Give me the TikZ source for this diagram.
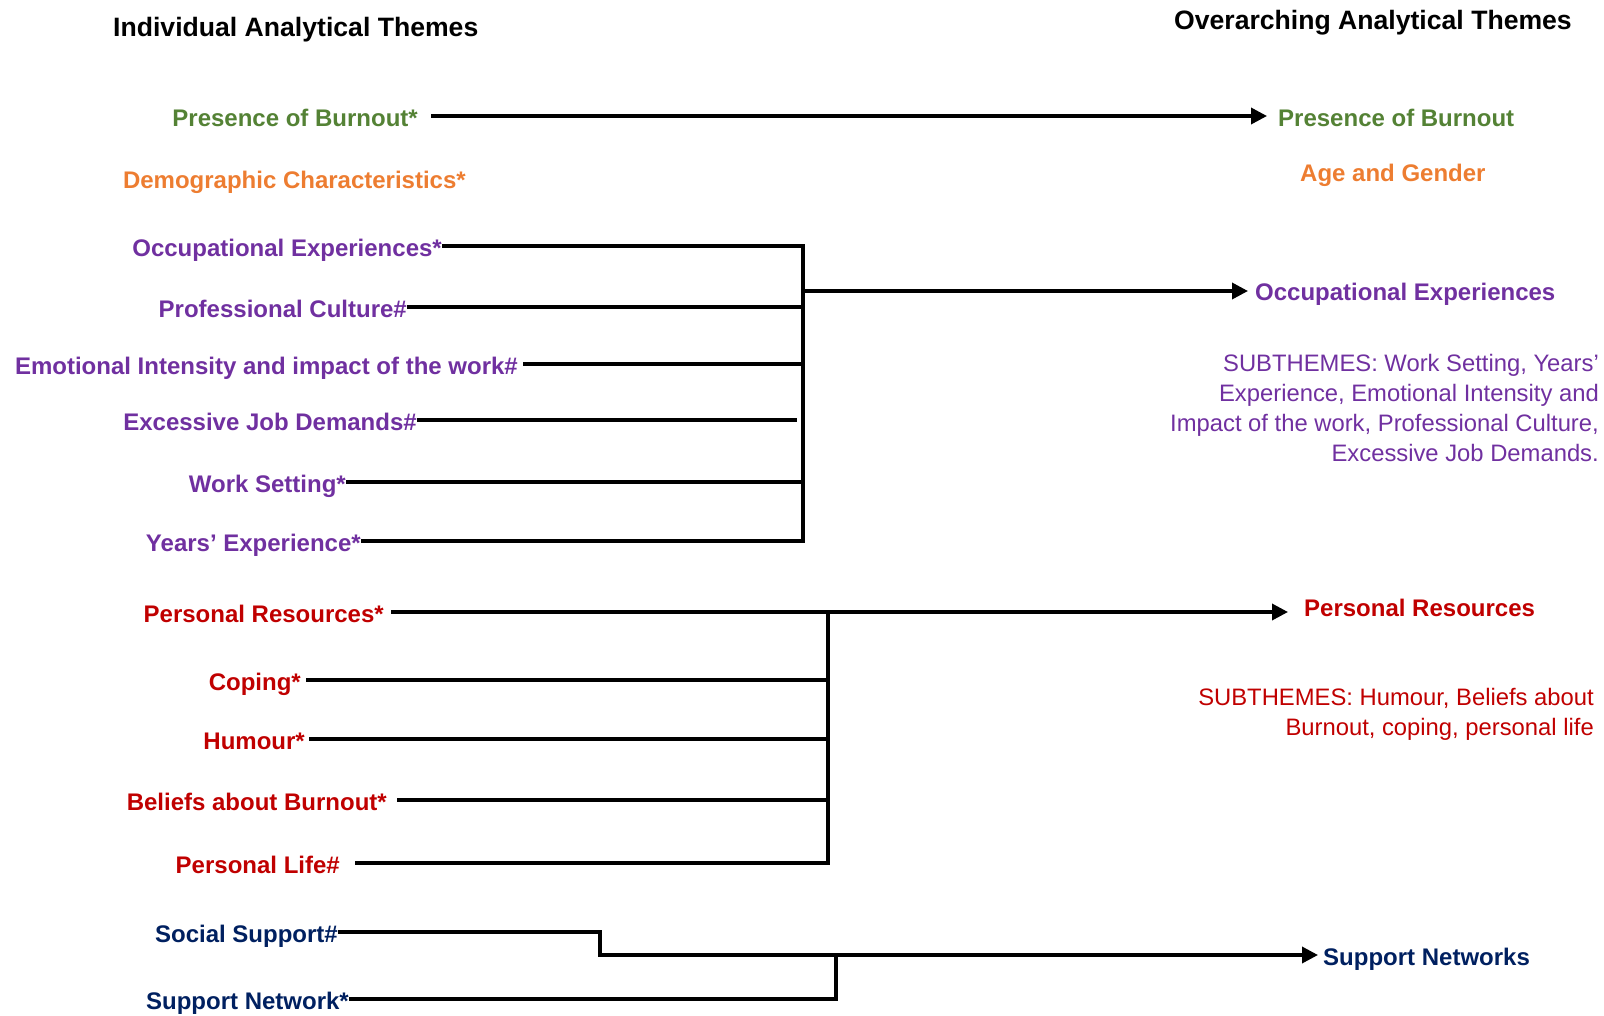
\documentclass[tikz,border=0pt]{standalone}
\usepackage{fontspec}
\setmainfont{Liberation Sans}
\usetikzlibrary{arrows.meta}
\definecolor{burngreen}{RGB}{84,130,53}
\definecolor{demoorange}{RGB}{237,125,49}
\definecolor{occpurple}{RGB}{112,48,160}
\definecolor{resred}{RGB}{192,0,0}
\definecolor{supnavy}{RGB}{0,32,96}

\begin{document}
\begin{tikzpicture}[x=1pt,y=-1pt,>={Triangle[length=16pt,width=16pt]},
  theme/.style={font=\bfseries\fontsize{24}{28}\selectfont,inner sep=0pt,text height=21pt,text depth=0pt},
  ltheme/.style={theme,anchor=east},
  rtheme/.style={theme,anchor=west},
  subtext/.style={font=\fontsize{23.8}{30}\selectfont,inner sep=0pt,align=right,anchor=north east},
  heading/.style={font=\bfseries\fontsize{26.6}{30}\selectfont,inner sep=0pt},
  link/.style={line width=3.5pt}]
\useasboundingbox (0,0) rectangle (1604,1015);

\node[heading,anchor=west] (indhead) at (113,29.5) {Individual Analytical Themes};
\node[heading,anchor=east] (overhead) at (1572,22.5) {Overarching Analytical Themes};

% individual themes
\node[ltheme,burngreen] (pobL) at (418,116) {Presence of Burnout*};
\node[ltheme,demoorange] (demoL) at (466,178) {Demographic Characteristics*};
\node[ltheme,occpurple] (occL) at (442,246) {Occupational Experiences*};
\node[ltheme,occpurple] (profL) at (407,307) {Professional Culture\#};
\node[ltheme,occpurple] (emoL) at (518,364) {Emotional Intensity and impact of the work\#};
\node[ltheme,occpurple] (excL) at (417,420) {Excessive Job Demands\#};
\node[ltheme,occpurple] (workL) at (346,482) {Work Setting*};
\node[ltheme,occpurple] (yrsL) at (361,541) {Years’ Experience*};
\node[ltheme,resred] (prL) at (384,612) {Personal Resources*};
\node[ltheme,resred] (copL) at (301,680) {Coping*};
\node[ltheme,resred] (humL) at (305,739) {Humour*};
\node[ltheme,resred] (belL) at (387,800) {Beliefs about Burnout*};
\node[ltheme,resred] (plifeL) at (340,863) {Personal Life\#};
\node[ltheme,supnavy] (socL) at (338,932) {Social Support\#};
\node[ltheme,supnavy] (snL) at (349,999) {Support Network*};

% overarching themes
\node[rtheme,burngreen] (pobR) at (1278,116) {Presence of Burnout};
\node[rtheme,demoorange] (ageR) at (1300,171) {Age and Gender};
\node[rtheme,occpurple] (occR) at (1255,290) {Occupational Experiences};
\node[rtheme,resred] (prR) at (1304,606) {Personal Resources};
\node[rtheme,supnavy] (snR) at (1323,955) {Support Networks};
\node[subtext,occpurple] (occsub) at (1599,354) {SUBTHEMES: Work Setting, Years’\\Experience, Emotional Intensity and\\Impact of the work, Professional Culture,\\Excessive Job Demands.};
\node[subtext,resred] (prsub) at (1594,688) {SUBTHEMES: Humour, Beliefs about\\Burnout, coping, personal life};

\coordinate (occbar) at (803,0);
\coordinate (occout) at (803,291);
\coordinate (resbar) at (828,0);
\coordinate (supstep) at (600,0);
\coordinate (supjoin) at (836,955);

\draw[link,->,shorten >=11pt] ([xshift=13pt]pobL.east) -- (pobR.west);

\draw[link] (occL.east) -| (occbar |- yrsL.east) -- (yrsL.east);
\draw[link] (profL.east) -- (profL.east -| occbar);
\draw[link] ([xshift=5pt]emoL.east) -- (emoL.east -| occbar);
\draw[link] (excL.east) -- ([xshift=-6pt]excL.east -| occbar);
\draw[link] (workL.east) -- (workL.east -| occbar);
\draw[link,->,shorten >=7pt] (occout) -- (occout -| occR.west);

\draw[link,->,shorten >=16pt] ([xshift=7pt]prL.east) -- (prL.east -| prR.west);
\draw[link] (resbar |- prL.east) -- (resbar |- plifeL.east) -- ([xshift=15pt]plifeL.east);
\draw[link] ([xshift=5pt]copL.east) -- (copL.east -| resbar);
\draw[link] ([xshift=4pt]humL.east) -- (humL.east -| resbar);
\draw[link] ([xshift=10pt]belL.east) -- (belL.east -| resbar);

\draw[link,->,shorten >=5pt] (socL.east) -| (supstep |- supjoin) -- (supjoin -| snR.west);
\draw[link] (snL.east) -| (supjoin);
\end{tikzpicture}
\end{document}
